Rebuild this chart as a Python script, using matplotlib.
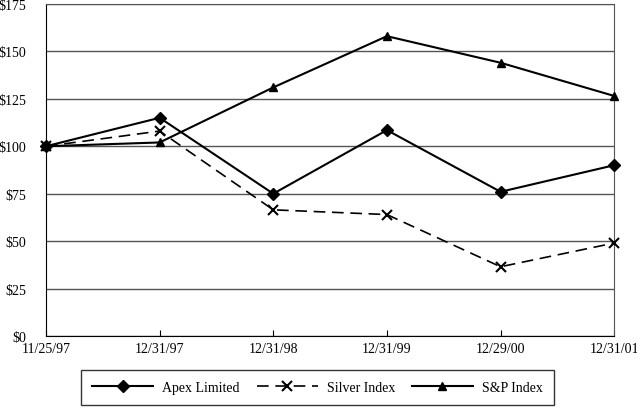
import matplotlib
matplotlib.use("Agg")
import matplotlib.pyplot as plt
from matplotlib.ticker import FuncFormatter

dates = ["11/25/97", "12/31/97", "12/31/98", "12/31/99", "12/29/00", "12/31/01"]
apex = [100, 115, 75, 108.5, 76, 90]
silver = [100, 108, 66.5, 64, 36.5, 49]
snp = [100, 102, 131, 158, 144, 126.5]

plt.rcParams['font.family'] = ['Liberation Serif', 'DejaVu Serif']

fig = plt.figure(figsize=(6.37, 4.10), dpi=100)
ax = fig.add_axes([0.0722, 0.178, 0.892, 0.81])

x = list(range(len(dates)))
ax.plot(x, apex, color='black', lw=1.5, marker='D', ms=6, label='Apex Limited', clip_on=False, zorder=3)
ax.plot(x, silver, color='black', lw=1.2, ls=(0, (7, 4)), marker='x', ms=7, mew=1.5,
        label='Silver Index', clip_on=False, zorder=3)
ax.plot(x, snp, color='black', lw=1.5, marker='^', ms=6, label='S&P Index', clip_on=False, zorder=3)

ax.set_xlim(0, len(dates) - 1)
ax.set_ylim(0, 175)
ax.set_yticks(range(0, 176, 25))
ax.yaxis.set_major_formatter(FuncFormatter(lambda v, p: f"${int(v)}"))
ax.set_xticks(x)
ax.set_xticklabels(dates)
ax.tick_params(axis='y', length=0, labelsize=10, pad=14)
ax.tick_params(axis='x', direction='in', length=4, labelsize=10, pad=4)
ax.grid(axis='y', color='#555555', lw=1)
ax.set_axisbelow(True)
for side in ['top', 'right']:
    ax.spines[side].set_color('#555555')
for side in ['left', 'bottom']:
    ax.spines[side].set_color('black')

leg = ax.legend(loc='upper center', bbox_to_anchor=(0.478, -0.102), ncol=3, frameon=True,
                fancybox=False, edgecolor='black', fontsize=10, handlelength=4.4,
                handletextpad=0.65, columnspacing=1.2, borderpad=0.8, borderaxespad=0)
leg.get_frame().set_linewidth(1)

fig.savefig("out.png", dpi=100)
